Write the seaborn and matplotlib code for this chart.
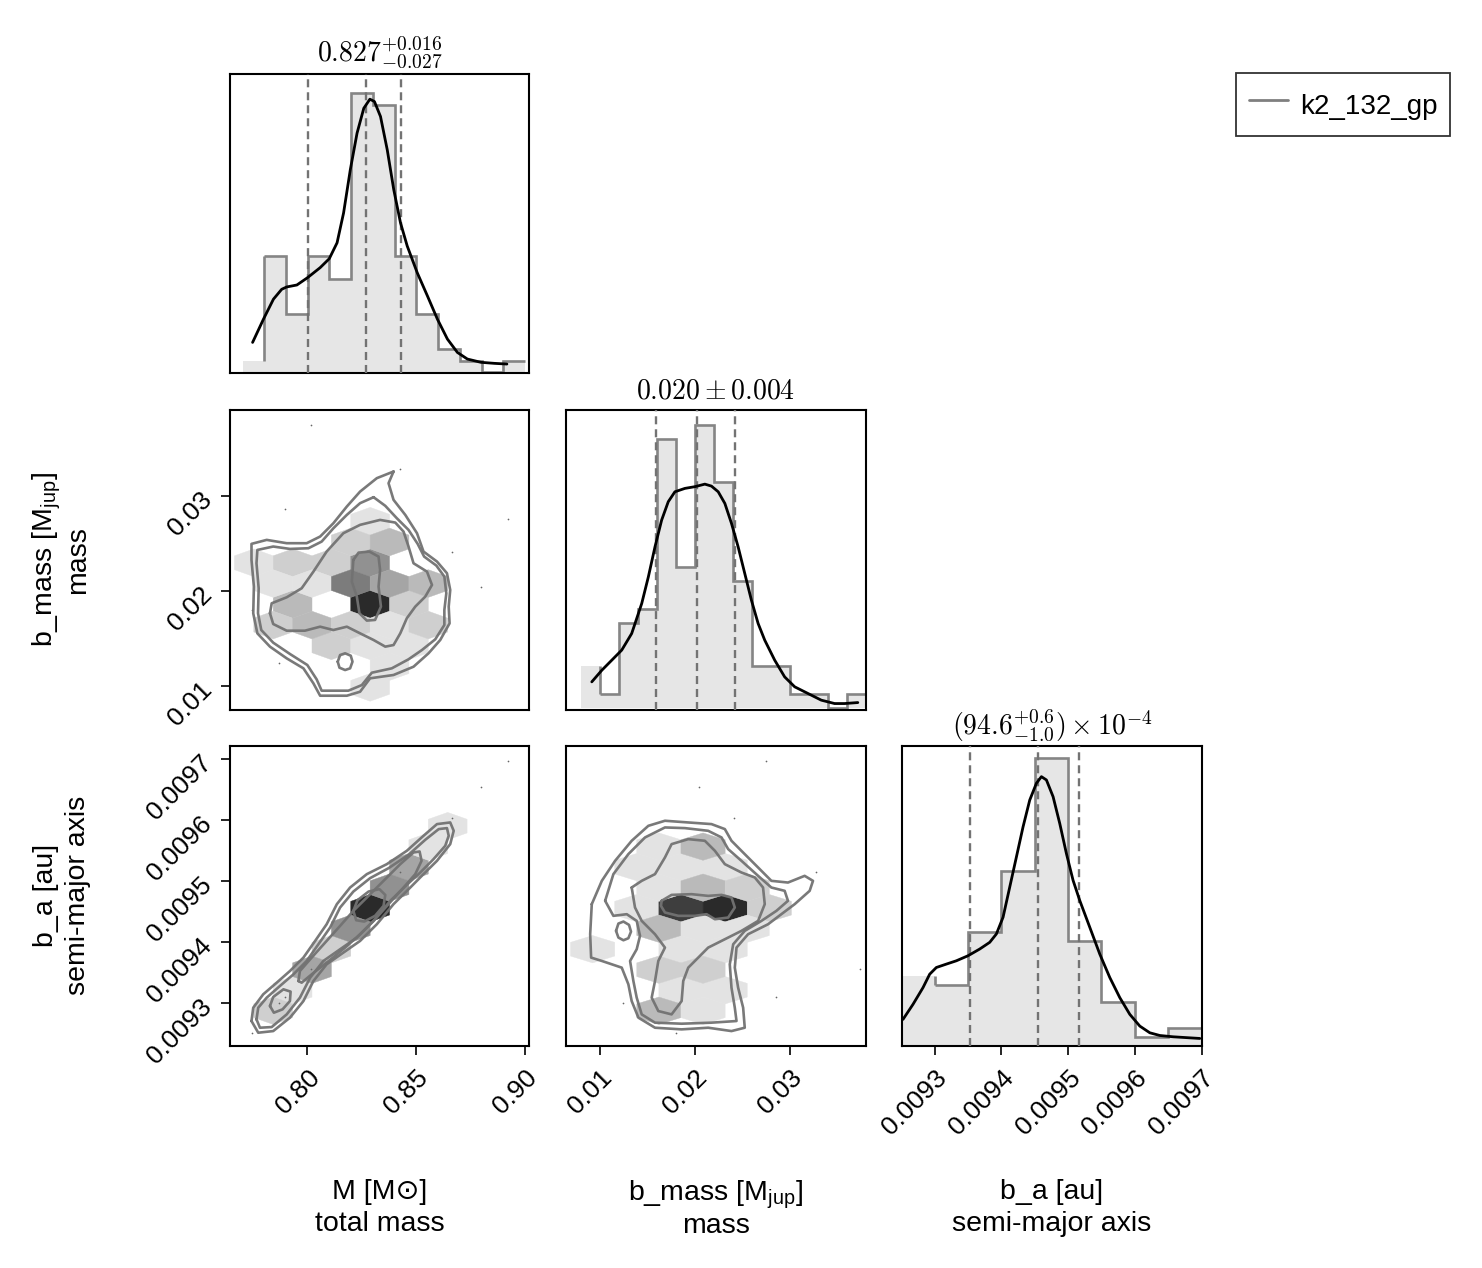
import numpy as np
import pandas as pd
import matplotlib
matplotlib.use("Agg")
import matplotlib.pyplot as plt
import seaborn as sns
from matplotlib.colors import LinearSegmentedColormap
from matplotlib.lines import Line2D

sns.set_style("ticks")
plt.rcParams['font.family'] = ['Liberation Sans', 'DejaVu Sans']
plt.rcParams['mathtext.fontset'] = 'custom'
plt.rcParams['mathtext.rm'] = 'Liberation Sans'
plt.rcParams['mathtext.it'] = 'Liberation Sans:italic'
plt.rcParams['text.color'] = 'black'
plt.rcParams['axes.labelcolor'] = 'black'
plt.rcParams['xtick.color'] = 'black'
plt.rcParams['ytick.color'] = 'black'

# ---------------- values ----------------
series_name = "k2_132_gp"

m_label = "M [M\u2299]\ntotal mass"
bm_label = "b_mass [M$_{\\mathrm{jup}}$]\nmass"
ba_label = "b_a [au]\nsemi-major axis"

m_title = r"$0.827^{+0.016}_{-0.027}$"
bm_title = r"$0.020 \pm 0.004$"
ba_title = r"$(94.6^{+0.6}_{-1.0}) \times 10^{-4}$"

m_ticks = [0.80, 0.85, 0.90]
m_ticklabels = ["0.80", "0.85", "0.90"]
bm_ticks = [0.01, 0.02, 0.03]
bm_ticklabels = ["0.01", "0.02", "0.03"]
ba_ticks = [0.0093, 0.0094, 0.0095, 0.0096, 0.0097]
ba_ticklabels = ["0.0093", "0.0094", "0.0095", "0.0096", "0.0097"]

# histograms (counts per bin)
m_edges = [0.7702, 0.7802, 0.7902, 0.8002, 0.8102, 0.8202, 0.8302, 0.8402,
           0.8502, 0.8602, 0.8702, 0.8802, 0.8902, 0.9002]
m_counts = [1, 10, 5, 10, 8, 24, 23, 10, 5, 2, 1, 0, 1]
bm_edges = [0.008, 0.010, 0.012, 0.014, 0.016, 0.018, 0.020, 0.022, 0.024,
            0.026, 0.028, 0.030, 0.032, 0.034, 0.036, 0.038]
bm_counts = [3, 1, 6, 7, 19, 10, 20, 16, 9, 3, 3, 1, 1, 0, 1]
ba_edges = [0.00925, 0.00930, 0.00935, 0.00940, 0.00945, 0.00950, 0.00955,
            0.00960, 0.00965, 0.00970]
ba_counts = [8, 7, 13, 20, 33, 12, 5, 1, 2]

# smoothed density curves (scaled to counts)
m_kde_x = [0.7748, 0.7798, 0.7844, 0.7882, 0.7905, 0.7952, 0.8001, 0.8059, 0.8101, 0.8137,
           0.8167, 0.8198, 0.8229, 0.8260, 0.8288, 0.8309, 0.8337, 0.8368, 0.8398, 0.8429,
           0.8460, 0.8506, 0.8553, 0.8599, 0.8645, 0.8691, 0.8737, 0.8799, 0.8861, 0.8919]
m_kde_y = [2.57, 4.57, 6.29, 7.14, 7.34, 7.51, 8.14, 9.0, 9.77, 11.14,
           13.71, 17.43, 20.57, 22.71, 23.49, 23.29, 22.0, 19.14, 15.71, 12.86,
           10.86, 8.57, 6.57, 4.57, 2.86, 1.71, 1.14, 0.86, 0.77, 0.71]
bm_kde_x = [0.00912, 0.01018, 0.01123, 0.01228, 0.01333, 0.01439, 0.01509, 0.01579, 0.01649,
            0.01719, 0.01789, 0.01895, 0.02000, 0.02105, 0.02175, 0.02246, 0.02316, 0.02386,
            0.02456, 0.02526, 0.02596, 0.02667, 0.02737, 0.02842, 0.02947, 0.03053, 0.03193,
            0.03333, 0.03474, 0.03579, 0.03719]
bm_kde_y = [1.87, 2.69, 3.4, 4.11, 5.28, 7.4, 9.28, 11.4, 13.28,
            14.58, 15.28, 15.52, 15.64, 15.82, 15.68, 15.28, 14.46, 13.05,
            11.4, 9.52, 7.64, 5.99, 4.81, 3.4, 2.22, 1.52, 1.05,
            0.58, 0.34, 0.34, 0.41]
ba_kde_x = [0.0092525, 0.0092675, 0.0092825, 0.0092925, 0.0093025, 0.0093175, 0.0093325,
            0.0093500, 0.0093675, 0.0093825, 0.0093925, 0.0094025, 0.0094125, 0.0094225,
            0.0094325, 0.0094425, 0.0094525, 0.0094600, 0.0094675, 0.0094775, 0.0094875,
            0.0094975, 0.0095075, 0.0095175, 0.0095325, 0.0095475, 0.0095625, 0.0095775,
            0.0095925, 0.0096075, 0.0096225, 0.0096375, 0.0096575, 0.0096825, 0.0096975]
ba_kde_y = [3.0, 4.73, 6.65, 8.19, 8.96, 9.35, 9.73,
            10.31, 11.08, 11.85, 12.81, 14.73, 18.19, 21.65,
            25.12, 28.19, 30.12, 30.88, 30.5, 28.58, 25.5,
            22.04, 18.96, 16.65, 13.58, 10.5, 7.81, 5.5,
            3.58, 2.23, 1.46, 1.15, 1.0, 0.88, 0.81]

# 16/50/84 percentiles
m_quant = [0.8001, 0.8271, 0.8433]
bm_quant = [0.0159, 0.0202, 0.0242]
ba_quant = [0.009353, 0.009455, 0.009517]

# hexbin cells: centre values and counts
mbm_hex_x = [0.8289, 0.8200, 0.8379, 0.8289, 0.8111, 0.8379, 0.8200, 0.8289, 0.8557, 0.8468,
             0.7932, 0.8022, 0.7843, 0.7932, 0.7754, 0.8022, 0.7843, 0.8200, 0.8379, 0.8557,
             0.8111, 0.8468, 0.8289, 0.8379, 0.8289]
mbm_hex_y = [0.01857, 0.02075, 0.02075, 0.02293, 0.02293, 0.02512, 0.02512, 0.02730, 0.02075, 0.01857,
             0.01857, 0.02075, 0.02075, 0.02293, 0.02293, 0.01638, 0.01638, 0.01638, 0.01638, 0.01638,
             0.01420, 0.01420, 0.01420, 0.01201, 0.00983]
mbm_hex_c = [10, 6, 4, 5, 2, 3, 2, 1, 3, 2,
             3, 1, 1, 2, 1, 3, 2, 2, 1, 2,
             2, 1, 1, 1, 1]

mba_hex_x = [0.8289, 0.8379, 0.8468, 0.8557, 0.8646, 0.8200, 0.8111, 0.8022, 0.7932, 0.7843]
mba_hex_y = [0.009456, 0.009489, 0.009523, 0.009557, 0.009590,
             0.009422, 0.009388, 0.009355, 0.009321, 0.009287]
mba_hex_c = [10, 5, 4, 1, 1, 5, 2, 4, 1, 2]

bmba_hex_x = [0.01853, 0.02319, 0.02086, 0.02552, 0.01620, 0.02086, 0.01620, 0.02319, 0.01387, 0.01853,
              0.01387, 0.01620, 0.02086, 0.02552, 0.02785, 0.00921, 0.01853, 0.02319, 0.01620, 0.02086,
              0.01853, 0.02319, 0.01620, 0.02086]
bmba_hex_y = [0.009456, 0.009456, 0.009489, 0.009489, 0.009489, 0.009557, 0.009557, 0.009523, 0.009523, 0.009523,
              0.009456, 0.009422, 0.009422, 0.009422, 0.009456, 0.009388, 0.009388, 0.009388, 0.009355, 0.009355,
              0.009321, 0.009321, 0.009287, 0.009287]
bmba_hex_c = [9, 10, 3, 2, 1, 3, 1, 1, 1, 1,
              1, 3, 1, 1, 2, 1, 1, 1, 2, 2,
              1, 1, 3, 1]

# samples lying outside the outer contour
out_m = [0.8923, 0.8800, 0.8665, 0.7868, 0.8016, 0.8428, 0.7897, 0.7746]
out_bm = [0.0275, 0.0204, 0.0241, 0.0124, 0.0374, 0.0328, 0.0286, 0.0180]
out_ba = [0.009698, 0.009654, 0.009604, 0.009299, 0.009356, 0.009515, 0.009310, 0.009251]

# density contours (closed curves)
mbm_contours = [
    [(0.8397, 0.03253), (0.8374, 0.03130), (0.8397, 0.02955), (0.8451, 0.02797), (0.8505, 0.02604),
     (0.8535, 0.02411), (0.8597, 0.02306), (0.8643, 0.02183), (0.8658, 0.02007), (0.8651, 0.01832),
     (0.8655, 0.01656), (0.8612, 0.01481), (0.8558, 0.01341), (0.8489, 0.01200), (0.8397, 0.01113),
     (0.8289, 0.01078), (0.8243, 0.00937), (0.8182, 0.00895), (0.8059, 0.00895), (0.8028, 0.01025),
     (0.7982, 0.01183), (0.7905, 0.01288), (0.7828, 0.01411), (0.7770, 0.01551), (0.7751, 0.01762),
     (0.7754, 0.02042), (0.7743, 0.02323), (0.7743, 0.02492), (0.7813, 0.02534), (0.7905, 0.02499),
     (0.7997, 0.02499), (0.8059, 0.02569), (0.8120, 0.02709), (0.8182, 0.02885), (0.8243, 0.03042),
     (0.8320, 0.03183)],
    [(0.8305, 0.02983), (0.8359, 0.02892), (0.8412, 0.02762), (0.8466, 0.02639), (0.8508, 0.02492),
     (0.8538, 0.02358), (0.8594, 0.02264), (0.8631, 0.02148), (0.8640, 0.01972), (0.8631, 0.01797),
     (0.8631, 0.01639), (0.8589, 0.01488), (0.8528, 0.01376), (0.8466, 0.01278), (0.8389, 0.01183),
     (0.8297, 0.01137), (0.8251, 0.01007), (0.8189, 0.00948), (0.8066, 0.00948), (0.8043, 0.01067),
     (0.8000, 0.01218), (0.7920, 0.01334), (0.7843, 0.01453), (0.7788, 0.01586), (0.7773, 0.01762),
     (0.7776, 0.02025), (0.7766, 0.02288), (0.7770, 0.02428), (0.7843, 0.02464), (0.7920, 0.02439),
     (0.8005, 0.02446), (0.8066, 0.02516), (0.8120, 0.02656), (0.8182, 0.02797), (0.8243, 0.02920)],
    [(0.7828, 0.01762), (0.7836, 0.01867), (0.7905, 0.01930), (0.7974, 0.02025), (0.8028, 0.02200),
     (0.8089, 0.02411), (0.8166, 0.02604), (0.8243, 0.02692), (0.8335, 0.02744), (0.8405, 0.02716),
     (0.8443, 0.02621), (0.8466, 0.02464), (0.8489, 0.02288), (0.8551, 0.02200), (0.8574, 0.02060),
     (0.8543, 0.01937), (0.8497, 0.01832), (0.8458, 0.01709), (0.8428, 0.01551), (0.8397, 0.01428),
     (0.8359, 0.01411), (0.8305, 0.01481), (0.8243, 0.01551), (0.8182, 0.01621), (0.8120, 0.01586),
     (0.8059, 0.01621), (0.7989, 0.01579), (0.7905, 0.01579), (0.7843, 0.01649)],
    [(0.8212, 0.02323), (0.8236, 0.02400), (0.8286, 0.02411), (0.8328, 0.02358), (0.8335, 0.02218),
     (0.8328, 0.02042), (0.8339, 0.01832), (0.8312, 0.01692), (0.8274, 0.01685), (0.8240, 0.01762),
     (0.8228, 0.01937), (0.8205, 0.02095)],
    [(0.8140, 0.01253), (0.8151, 0.01323), (0.8174, 0.01341), (0.8200, 0.01316), (0.8208, 0.01253),
     (0.8197, 0.01183), (0.8174, 0.01165), (0.8148, 0.01190)],
]

mba_contours = [
    [(0.7743, 0.0092702), (0.7751, 0.0092921), (0.7797, 0.0093141), (0.7859, 0.0093332), (0.7920, 0.0093524),
     (0.7982, 0.0093744), (0.8036, 0.0094018), (0.8089, 0.0094292), (0.8136, 0.0094622), (0.8197, 0.0094895),
     (0.8274, 0.0095115), (0.8366, 0.0095279), (0.8458, 0.0095498), (0.8535, 0.0095745), (0.8597, 0.0095937),
     (0.8658, 0.0095964), (0.8674, 0.0095827), (0.8658, 0.0095608), (0.8597, 0.0095334), (0.8535, 0.0095115),
     (0.8474, 0.0094895), (0.8397, 0.0094622), (0.8320, 0.0094292), (0.8243, 0.0094018), (0.8166, 0.0093826),
     (0.8089, 0.0093634), (0.8028, 0.0093359), (0.7982, 0.0093030), (0.7920, 0.0092757), (0.7843, 0.0092537),
     (0.7774, 0.0092510)],
    [(0.7766, 0.0092729), (0.7774, 0.0092921), (0.7813, 0.0093086), (0.7874, 0.0093278), (0.7936, 0.0093469),
     (0.7997, 0.0093689), (0.8051, 0.0093963), (0.8105, 0.0094238), (0.8151, 0.0094567), (0.8212, 0.0094829),
     (0.8289, 0.0095049), (0.8374, 0.0095213), (0.8466, 0.0095433), (0.8543, 0.0095679), (0.8605, 0.0095855),
     (0.8643, 0.0095871), (0.8651, 0.0095745), (0.8635, 0.0095580), (0.8581, 0.0095361), (0.8520, 0.0095142),
     (0.8458, 0.0094939), (0.8382, 0.0094677), (0.8305, 0.0094347), (0.8228, 0.0094073), (0.8151, 0.0093881),
     (0.8074, 0.0093689), (0.8013, 0.0093414), (0.7966, 0.0093086), (0.7905, 0.0092811), (0.7836, 0.0092603),
     (0.7782, 0.0092592)],
    [(0.7959, 0.0093359), (0.7966, 0.0093524), (0.8020, 0.0093744), (0.8089, 0.0094018), (0.8151, 0.0094265),
     (0.8212, 0.0094512), (0.8274, 0.0094731), (0.8351, 0.0095005), (0.8428, 0.0095279), (0.8489, 0.0095471),
     (0.8517, 0.0095487), (0.8526, 0.0095334), (0.8497, 0.0095115), (0.8443, 0.0094895), (0.8374, 0.0094622),
     (0.8305, 0.0094347), (0.8243, 0.0094128), (0.8174, 0.0093908), (0.8089, 0.0093661), (0.8020, 0.0093469),
     (0.7974, 0.0093332)],
    [(0.8212, 0.0094512), (0.8231, 0.0094687), (0.8282, 0.0094829), (0.8332, 0.0094868), (0.8359, 0.0094773),
     (0.8351, 0.0094594), (0.8312, 0.0094430), (0.8262, 0.0094336), (0.8225, 0.0094358)],
    [(0.7828, 0.0092949), (0.7843, 0.0093097), (0.7890, 0.0093223), (0.7923, 0.0093185), (0.7920, 0.0093030),
     (0.7886, 0.0092894), (0.7846, 0.0092839)],
]

bmba_contours = [
    [(0.00912, 0.0094622), (0.01018, 0.0095005), (0.01158, 0.0095334), (0.01333, 0.0095663), (0.01509, 0.0095909),
     (0.01684, 0.0095992), (0.01930, 0.0095964), (0.02175, 0.0095937), (0.02316, 0.0095855), (0.02386, 0.0095663),
     (0.02491, 0.0095498), (0.02667, 0.0095224), (0.02807, 0.0095005), (0.02982, 0.0094977), (0.03158, 0.0095087),
     (0.03246, 0.0095005), (0.03211, 0.0094841), (0.03053, 0.0094622), (0.02912, 0.0094457), (0.02772, 0.0094292),
     (0.02561, 0.0094128), (0.02439, 0.0093908), (0.02421, 0.0093579), (0.02456, 0.0093250), (0.02509, 0.0092921),
     (0.02526, 0.0092592), (0.02386, 0.0092537), (0.02140, 0.0092592), (0.01860, 0.0092565), (0.01579, 0.0092592),
     (0.01404, 0.0092757), (0.01333, 0.0093030), (0.01298, 0.0093305), (0.01228, 0.0093579), (0.01018, 0.0093689),
     (0.00905, 0.0093744), (0.00895, 0.0094128)],
    [(0.01053, 0.0094677), (0.01140, 0.0095115), (0.01298, 0.0095444), (0.01474, 0.0095718), (0.01684, 0.0095882),
     (0.01895, 0.0095871), (0.02140, 0.0095827), (0.02281, 0.0095718), (0.02351, 0.0095526), (0.02491, 0.0095334),
     (0.02667, 0.0095087), (0.02807, 0.0094895), (0.02947, 0.0094841), (0.02982, 0.0094677), (0.02860, 0.0094512),
     (0.02702, 0.0094347), (0.02526, 0.0094183), (0.02404, 0.0093963), (0.02368, 0.0093634), (0.02386, 0.0093250),
     (0.02421, 0.0092921), (0.02439, 0.0092702), (0.02175, 0.0092675), (0.01860, 0.0092658), (0.01579, 0.0092675),
     (0.01439, 0.0092811), (0.01386, 0.0093086), (0.01351, 0.0093359), (0.01316, 0.0093689), (0.01386, 0.0093881),
     (0.01421, 0.0094101), (0.01386, 0.0094347), (0.01281, 0.0094457), (0.01140, 0.0094430)],
    [(0.01333, 0.0094895), (0.01439, 0.0095005), (0.01579, 0.0095115), (0.01684, 0.0095389), (0.01754, 0.0095608),
     (0.01930, 0.0095690), (0.02105, 0.0095663), (0.02211, 0.0095498), (0.02316, 0.0095279), (0.02491, 0.0095142),
     (0.02632, 0.0095060), (0.02719, 0.0094895), (0.02737, 0.0094622), (0.02667, 0.0094347), (0.02491, 0.0094183),
     (0.02351, 0.0094073), (0.02140, 0.0093908), (0.01930, 0.0093579), (0.01877, 0.0093359), (0.01860, 0.0093030),
     (0.01754, 0.0092811), (0.01614, 0.0092866), (0.01544, 0.0093086), (0.01579, 0.0093359), (0.01614, 0.0093689),
     (0.01684, 0.0093908), (0.01579, 0.0094128), (0.01439, 0.0094347), (0.01368, 0.0094567)],
    [(0.01649, 0.0094677), (0.01754, 0.0094774), (0.01965, 0.0094786), (0.02140, 0.0094758), (0.02281, 0.0094774),
     (0.02386, 0.0094731), (0.02421, 0.0094567), (0.02351, 0.0094402), (0.02211, 0.0094374), (0.02123, 0.0094457),
     (0.02000, 0.0094430), (0.01825, 0.0094430), (0.01684, 0.0094485), (0.01642, 0.0094594)],
    [(0.01168, 0.0094183), (0.01193, 0.0094303), (0.01246, 0.0094336), (0.01305, 0.0094281), (0.01326, 0.0094171),
     (0.01298, 0.0094062), (0.01246, 0.0094029), (0.01193, 0.0094073)],
]

# axis ranges
m_lim = (0.7644, 0.9023)
bm_xlim = (0.0064, 0.0380)
bm_ylim = (0.0075, 0.0390)
ba_xlim = (0.009251, 0.0097)
ba_ylim = (0.00923, 0.009722)

# ---------------- styling ----------------
fill_col = "#e6e6e6"
step_col = "#858585"
quant_col = "#737373"
contour_col = "#727272"
hex_cmap = LinearSegmentedColormap.from_list("hexgray", ["#e3e3e3", "#2a2a2a"])
tick_fs = 19
label_fs = 20.5

W, H = 1482, 1268
col_left = [230, 566, 902]
row_top = [73.5, 410, 746]
size = 299.5

fig = plt.figure(figsize=(W / 100, H / 100), dpi=100)


def make_ax(r, c):
    ax = fig.add_axes([col_left[c] / W, 1 - (row_top[r] + size) / H, size / W, size / H])
    for s in ax.spines.values():
        s.set_visible(True)
        s.set_linewidth(1.5)
        s.set_color("black")
    ax.tick_params(direction="out", length=6.5, width=1.2, color="black",
                   labelsize=tick_fs, labelcolor="black")
    ax.set_xticks([])
    ax.set_yticks([])
    return ax


def diag(ax, edges, counts, kx, ky, quant, xlim, ylim, title):
    edges = np.asarray(edges)
    counts = np.asarray(counts, float)
    df = pd.DataFrame({"x": (edges[:-1] + edges[1:]) / 2, "w": counts})
    sns.histplot(data=df, x="x", weights="w", bins=list(edges), element="bars", fill=True,
                 color=fill_col, alpha=1, edgecolor="none", linewidth=0, ax=ax, zorder=1)
    ax.stairs(counts[1:], edges[1:], baseline=None, color=step_col, lw=1.9, zorder=2)
    ax.vlines(edges[1], counts[0], counts[1], color=step_col, lw=1.9, zorder=2)
    for q in quant:
        ax.axvline(q, color=quant_col, lw=1.7, ls=(0, (3.4, 2.1)), zorder=3)
    sns.lineplot(x=kx, y=ky, color="black", lw=2.0, ax=ax, zorder=4)
    ax.set_xlim(*xlim)
    ax.set_ylim(*ylim)
    ax.set_xlabel("")
    ax.set_ylabel("")
    ax.set_yticks([])
    ax.set_title(title, fontsize=20, pad=8, math_fontfamily="cm")


def pair(ax, hx, hy, hc, extent, curves, px, py, xlim, ylim):
    ax.hexbin(hx, hy, C=hc, reduce_C_function=np.sum, gridsize=(8, 8), extent=extent,
              cmap=hex_cmap, vmin=1, vmax=10, edgecolors="face", linewidths=0.3, zorder=1)
    for curve in curves:
        xs = [p[0] for p in curve] + [curve[0][0]]
        ys = [p[1] for p in curve] + [curve[0][1]]
        ax.plot(xs, ys, color=contour_col, lw=1.9, alpha=0.95, zorder=3,
                solid_joinstyle="round")
    ax.scatter(px, py, s=1.5, color="#666666", linewidths=0, zorder=2)
    ax.set_xlim(*xlim)
    ax.set_ylim(*ylim)


def xticks(ax, ticks, labels):
    ax.set_xticks(ticks)
    ax.set_xticklabels(labels, rotation=45, ha="right", va="top", rotation_mode="anchor")
    ax.tick_params(axis="x", pad=8)


def yticks(ax, ticks, labels):
    ax.set_yticks(ticks)
    ax.set_yticklabels(labels, rotation=45, ha="right", va="center", rotation_mode="anchor")
    ax.tick_params(axis="y", pad=9)


# diagonal
ax00 = make_ax(0, 0)
diag(ax00, m_edges, m_counts, m_kde_x, m_kde_y, m_quant, m_lim, (-0.06, 25.7), m_title)
ax11 = make_ax(1, 1)
diag(ax11, bm_edges, bm_counts, bm_kde_x, bm_kde_y, bm_quant, bm_xlim, (-0.08, 21.05), bm_title)
ax22 = make_ax(2, 2)
diag(ax22, ba_edges, ba_counts, ba_kde_x, ba_kde_y, ba_quant, ba_xlim, (0, 34.4), ba_title)

# lower triangle
ax10 = make_ax(1, 0)
pair(ax10, mbm_hex_x, mbm_hex_y, mbm_hex_c, (0.77538, 0.91818, 0.005461, 0.040405),
     mbm_contours, out_m, out_bm, m_lim, bm_ylim)
ax20 = make_ax(2, 0)
pair(ax20, mba_hex_x, mba_hex_y, mba_hex_c, (0.77538, 0.91818, 0.0092534, 0.0097926),
     mba_contours, out_m, out_ba, m_lim, ba_ylim)
ax21 = make_ax(2, 1)
pair(ax21, bmba_hex_x, bmba_hex_y, bmba_hex_c, (0.00455, 0.04183, 0.0092534, 0.0097926),
     bmba_contours, out_bm, out_ba, bm_xlim, ba_ylim)

# ticks and labels
xticks(ax20, m_ticks, m_ticklabels)
xticks(ax21, bm_ticks, bm_ticklabels)
xticks(ax22, ba_ticks, ba_ticklabels)
yticks(ax10, bm_ticks, bm_ticklabels)
yticks(ax20, ba_ticks, ba_ticklabels)

for ax, lab in [(ax20, m_label), (ax21, bm_label), (ax22, ba_label)]:
    ls = 1.08 if lab == bm_label else 1.3
    ax.set_xlabel(lab, fontsize=label_fs, linespacing=ls, visible=True)
    ax.xaxis.set_label_coords(0.5, -0.445)
for ax, lab in [(ax10, bm_label), (ax20, ba_label)]:
    ls = 1.08 if lab == bm_label else 1.3
    ax.set_ylabel(lab, fontsize=label_fs, linespacing=ls, visible=True)
    ax.yaxis.set_label_coords(-0.465, 0.5)

# legend
handle = Line2D([], [], color="#7f7f7f", lw=2)
leg = fig.legend([handle], [series_name], loc="upper right",
                 bbox_to_anchor=(1450 / W, 1 - 73 / H), borderaxespad=0,
                 frameon=True, fancybox=False, edgecolor="black", fontsize=20,
                 handlelength=1.4, handleheight=1.75, handletextpad=0.45, borderpad=0.45)
leg.get_frame().set_linewidth(1.3)

fig.savefig("out.png", dpi=100)
